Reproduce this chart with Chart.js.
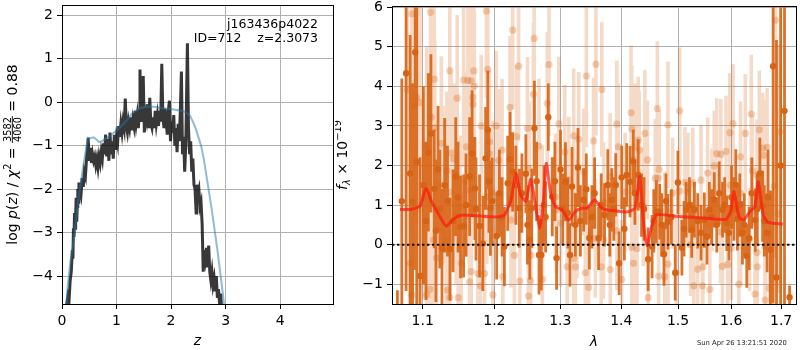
<!DOCTYPE html>
<html>
<head>
<meta charset="utf-8">
<title>p(z) and spectrum</title>
<script src="https://cdn.jsdelivr.net/npm/chart.js@4/dist/chart.umd.min.js"></script>
<style>
  body { margin: 0; background: #fff; width: 800px; height: 350px; overflow: hidden; position: relative; }
  #pz { position: absolute; left: 0; top: 0; }
  #sp { position: absolute; left: 335px; top: 0; }
</style>
</head>
<body>
<canvas id="pz" width="335" height="350"></canvas>
<canvas id="sp" width="465" height="350"></canvas>
<script>
// ---- left panel: log p(z) ----
var zRange = [0, 4.97];
var lpRange = [-4.64, 2.23];
var xTicksPz = [0, 1, 2, 3, 4];
var yTicksPz = [-4, -3, -2, -1, 0, 1, 2];

// noisy p(z) curve (dark)
var zPz = [
  0.08, 0.11, 0.13, 0.15, 0.17, 0.19, 0.20, 0.21, 0.22, 0.23,
  0.24, 0.25, 0.26, 0.27, 0.28, 0.29, 0.30, 0.31, 0.32, 0.33,
  0.35, 0.37, 0.39, 0.41, 0.43, 0.45, 0.47, 0.48, 0.50, 0.52,
  0.54, 0.56, 0.58, 0.60, 0.62, 0.64, 0.66, 0.68, 0.70, 0.72,
  0.74, 0.76, 0.78, 0.80, 0.82, 0.84, 0.86, 0.88, 0.90, 0.92,
  0.94, 0.96, 0.98, 1.00, 1.02, 1.04, 1.06, 1.08, 1.10, 1.12,
  1.14, 1.16, 1.18, 1.20, 1.22, 1.24, 1.26, 1.28, 1.30, 1.32,
  1.34, 1.36, 1.38, 1.40, 1.42, 1.43, 1.45, 1.47, 1.49, 1.51,
  1.53, 1.55, 1.57, 1.59, 1.61, 1.63, 1.65, 1.67, 1.69, 1.71,
  1.73, 1.75, 1.77, 1.79, 1.81, 1.83, 1.85, 1.87, 1.89, 1.91,
  1.93, 1.95, 1.97, 1.99, 2.01, 2.03, 2.05, 2.07, 2.09, 2.11,
  2.13, 2.15, 2.17, 2.19, 2.21, 2.23, 2.25, 2.27, 2.30, 2.32,
  2.34, 2.36, 2.38, 2.40, 2.42, 2.44, 2.46, 2.47, 2.49, 2.51,
  2.53, 2.55, 2.57, 2.59, 2.61, 2.63, 2.65, 2.67, 2.69, 2.71,
  2.73, 2.75, 2.77, 2.79, 2.81, 2.83, 2.85, 2.87, 2.89, 2.91, 2.93
];
var lpPz = [
  -4.70, -4.45, -4.55, -4.10, -3.90, -3.40, -3.60, -2.90, -3.10, -2.55,
  -2.90, -2.60, -2.20, -2.75, -2.40, -2.00, -2.30, -1.85, -2.20, -1.95,
  -2.10, -1.75, -1.95, -1.60, -1.70, -1.30, -1.05, -0.82, -1.35, -1.05,
  -1.40, -1.20, -1.35, -1.25, -1.45, -1.30, -1.50, -1.25, -1.40, -1.15,
  -1.30, -0.95, -1.20, -0.75, -1.25, -0.85, -1.35, -0.70, -1.20, -0.90,
  -1.30, -0.75, -1.10, -0.80, -0.95, -0.55, -0.80, -0.50, -0.70, -0.45,
  -0.60, 0.08, -0.55, -0.70, -0.45, -0.60, -0.35, -0.65, -0.40, -0.55,
  -0.20, -0.50, -0.30, -0.60, -0.20, 0.75, -0.45, -0.30, 0.60, -0.70,
  -0.25, -0.40, -0.05, -0.60, 0.10, -0.50, -0.60, -0.35, -0.60, -0.20,
  -0.50, -0.30, -0.55, -0.20, -0.45, 0.88, -0.30, -0.60, -0.15, -0.45,
  -0.75, -0.20, 0.03, -0.90, -0.45, -0.70, -0.30, -1.00, -0.60, -1.15,
  -0.50, -0.90, -0.20, 0.70, -1.20, -0.80, -1.60, -1.00, 1.35, -0.60,
  -1.20, -0.90, -1.60, -1.30, -1.90, -2.00, -2.55, -1.90, -2.10, -2.00,
  -2.40, -2.30, -2.80, -3.90, -3.40, -3.60, -3.35, -3.80, -3.30, -3.90,
  -4.10, -3.90, -4.20, -4.05, -4.35, -4.00, -4.50, -4.30, -4.64, -4.40, -4.80
];

// smooth chi2 curve (blue)
var zBlue = [0.07, 0.10, 0.15, 0.20, 0.25, 0.30, 0.35, 0.40, 0.45, 0.48, 0.52, 0.58, 0.63, 0.68, 0.73, 0.80,
  0.88, 0.97, 1.05, 1.13, 1.20, 1.28, 1.35, 1.42, 1.50, 1.60, 1.70, 1.80, 1.90, 2.00, 2.10, 2.20,
  2.28, 2.35, 2.40, 2.45, 2.50, 2.55, 2.60, 2.65, 2.70, 2.75, 2.80, 2.85, 2.90, 2.95, 2.98];
var lpBlue = [-4.90, -4.30, -3.70, -3.30, -2.80, -2.25, -1.80, -1.40, -1.00, -0.82, -0.83, -0.81, -0.86, -0.92, -0.90, -0.84,
  -0.78, -0.68, -0.60, -0.50, -0.40, -0.27, -0.20, -0.15, -0.12, -0.10, -0.11, -0.13, -0.15, -0.16, -0.18, -0.20,
  -0.24, -0.32, -0.45, -0.60, -0.80, -1.00, -1.30, -1.70, -2.10, -2.50, -2.95, -3.40, -3.90, -4.40, -4.75];

var objName = 'j163436p4022';
var idLine = 'ID=712    z=2.3073';

// ---- right panel: spectrum ----
var lamRange = [1.0597, 1.731];
var fRange = [-1.5, 6.03];
var xTicksSp = [1.1, 1.2, 1.3, 1.4, 1.5, 1.6, 1.7];
var yTicksSp = [-1, 0, 1, 2, 3, 4, 5, 6];

// binned points (dark orange)
var lamDark = [
  1.0667, 1.0724, 1.078, 1.0865, 1.090, 1.092, 1.0964, 1.1075, 1.111, 1.1155,
  1.1178, 1.126, 1.1297, 1.137, 1.145, 1.1517, 1.156, 1.1645, 1.168, 1.172,
  1.1786, 1.1833, 1.1873, 1.1905, 1.1943, 1.2034, 1.2147, 1.2196, 1.2231, 1.227,
  1.2368, 1.2408, 1.2468, 1.2528, 1.2558, 1.2598, 1.2669, 1.2704, 1.2746, 1.2812,
  1.2874, 1.2942, 1.3004, 1.3082, 1.3155, 1.3187, 1.3241, 1.3283, 1.3375, 1.3467,
  1.3554, 1.3619, 1.3718, 1.3773, 1.3839, 1.3906, 1.3963, 1.4007, 1.4092, 1.415,
  1.4206, 1.4291, 1.4349, 1.4464, 1.4534, 1.4609, 1.4669, 1.4745, 1.4817, 1.4948,
  1.4997, 1.507, 1.5148, 1.5251, 1.5301, 1.5424, 1.5486, 1.558, 1.5674, 1.5769,
  1.5832, 1.5915, 1.6006, 1.609, 1.612, 1.622, 1.6305, 1.6353, 1.6405, 1.6474,
  1.6567, 1.6622, 1.6713, 1.678, 1.6836, 1.6905, 1.699, 1.707, 1.7175,
  1.0833, 1.1008, 1.1044, 1.1207, 1.1231, 1.1336, 1.1413, 1.1482, 1.1594, 1.1735, 1.1921,
  1.1969, 1.2073, 1.2113, 1.2317, 1.2492, 1.2632, 1.2771, 1.2916, 1.304, 1.312, 1.3322, 1.3418,
  1.3509, 1.3663, 1.3806, 1.3873, 1.4052, 1.4234, 1.4392, 1.4564, 1.4704, 1.4781, 1.4878, 1.5109, 1.5209,
  1.5362, 1.5535, 1.5623, 1.5722, 1.5873, 1.5956, 1.6052, 1.6167, 1.6257, 1.6513, 1.6655, 1.6733
];
var fluxDark = [
  -1.6, 1.1, 4.33, 1.08, 4.86, 2.09, -0.79, 2.33, 2.81, 1.41,
  0.35, -0.09, 1.5, -0.11, 1.72, 0.45, 0.47, 1.72, 2.3, 1.42,
  0.47, 0.03, 2.18, 2.9, 0.92, 0.22, -0.05, 1.55, 2.16, 1.84,
  0.92, 1.3, 1.79, 0.12, 0.92, 2.94, -0.26, -0.26, 1.0, 3.22,
  1.21, -0.34, 1.9, 1.59, -0.26, 1.47, 0.5, 1.95, 1.13, 0.17,
  1.3, 0.16, 0.75, 1.51, 1.13, 1.51, -0.47, 1.7, 1.76, 1.59,
  2.1, 1.76, 1.0, -0.37, -0.05, 0.83, 0.83, -0.24, 0.58, -0.71,
  1.57, -0.08, 0.88, 0.37, 0.88, 0.3, 0.62, 0.88, 1.13, 1.3,
  0.88, 0.54, 1.2, 1.51, 0.65, 0.3, -0.29, 0.16, 1.3, 0.62,
  1.8, 0.97, 0.3, -0.13, 4.51, -0.83, 2.0, 3.38, -1.33,
  1.8, 1.5, 0.6, 1.9, 0.9, 1.1, 0.6, 1.2, 1.0, 0.9, 1.6,
  1.1, 1.3, 0.7, 1.5, 0.5, 1.6, 0.7, 1.6, 0.9, 0.8, 0.6, 1.4,
  0.7, 1.0, 0.5, 0.9, 0.4, 1.3, 0.9, 0.6, 0.5, 1.1, 0.7, 0.4, 1.0,
  0.6, 0.2, 0.7, 0.5, 1.0, 0.3, 0.9, 1.0, 0.5, 0.9, 0.6, 1.2
];
var errDark = [
  0.45, 3.1, 5.5, 3.0, 5.5, 4.0, 3.0, 2.0, 2.0, 1.5,
  1.8, 1.5, 1.7, 1.3, 1.5, 1.3, 1.3, 1.5, 1.6, 1.3,
  1.3, 1.2, 1.3, 1.5, 1.2, 1.1, 1.0, 1.2, 1.2, 1.0,
  1.0, 1.0, 1.0, 1.0, 1.0, 1.2, 1.0, 0.9, 1.0, 0.85,
  1.0, 0.8, 1.0, 1.0, 0.8, 1.0, 0.8, 1.0, 0.8, 0.8,
  0.9, 0.8, 0.8, 0.9, 0.8, 0.8, 0.8, 0.8, 0.8, 0.9,
  0.8, 0.9, 0.8, 0.8, 0.8, 0.8, 0.7, 0.8, 0.7, 0.7,
  0.8, 0.7, 0.7, 0.7, 0.7, 0.7, 0.7, 0.7, 0.7, 0.8,
  0.7, 0.7, 0.8, 0.9, 0.8, 0.8, 0.8, 0.8, 0.9, 0.8,
  0.9, 0.9, 1.0, 1.5, 6.0, 6.0, 6.0, 6.0, 0.3,
  3.5, 2.5, 2.0, 1.6, 1.5, 1.4, 1.3, 1.4, 1.3, 1.3, 1.3,
  1.1, 1.1, 1.0, 1.0, 1.0, 1.0, 0.9, 1.0, 0.9, 0.9, 0.9, 0.9,
  0.8, 0.8, 0.8, 0.8, 0.8, 0.8, 0.8, 0.8, 0.8, 0.7, 0.7, 0.7, 0.7,
  0.7, 0.7, 0.7, 0.7, 0.7, 0.7, 0.8, 0.8, 0.8, 0.9, 0.9, 1.2
];

// unbinned points (light orange)
var lamLight = [
  1.0797, 1.0833, 1.0856, 1.0856, 1.0886, 1.092, 1.0964, 1.1008, 1.1053, 1.1053,
  1.1075, 1.1097, 1.1105, 1.1114, 1.1143, 1.1155, 1.1163, 1.1187, 1.1252, 1.1274,
  1.1318, 1.1327, 1.1336, 1.1368, 1.1368, 1.138, 1.1387, 1.142, 1.1456, 1.147,
  1.1484, 1.151, 1.1527, 1.156, 1.159, 1.16, 1.162, 1.164, 1.1645, 1.1667,
  1.1667, 1.1688, 1.169, 1.1703, 1.1711, 1.1762, 1.1797, 1.181, 1.1858, 1.1884,
  1.189, 1.1905, 1.1929, 1.193, 1.1969, 1.1979, 1.2025, 1.2063, 1.2113, 1.2123,
  1.2231, 1.2245, 1.227, 1.2295, 1.2328, 1.2358, 1.2378, 1.2492, 1.2507, 1.2518,
  1.254, 1.2543, 1.2584, 1.2594, 1.2669, 1.2719, 1.2721, 1.2797, 1.2823, 1.2926,
  1.294, 1.2978, 1.3004, 1.3071, 1.3109, 1.3136, 1.3214, 1.3216, 1.324, 1.3267,
  1.3295, 1.3375, 1.3402, 1.3418, 1.3456, 1.3538, 1.3566, 1.3575, 1.3663, 1.3673,
  1.37, 1.3702, 1.3812, 1.3814, 1.3923, 1.3925, 1.395, 1.4007, 1.4064, 1.4167,
  1.4178, 1.418, 1.42, 1.421, 1.4234, 1.427, 1.4291, 1.431, 1.438, 1.4407,
  1.4452, 1.4464, 1.459, 1.4627, 1.464, 1.465, 1.466, 1.4759, 1.476, 1.4817,
  1.4819, 1.49, 1.497, 1.5028, 1.503, 1.5126, 1.5178, 1.518, 1.523, 1.527,
  1.529, 1.5362, 1.5424, 1.545, 1.546, 1.5548, 1.559, 1.563, 1.5674, 1.5722,
  1.5795, 1.58, 1.583, 1.59, 1.593, 1.5973, 1.598, 1.6, 1.6036, 1.615,
  1.618, 1.6185, 1.6183, 1.6276, 1.636, 1.6395, 1.6418, 1.647, 1.651, 1.6512,
  1.6515, 1.6555, 1.6622, 1.664, 1.667, 1.6672, 1.6713, 1.676, 1.686, 1.6884,
  1.694, 1.6972
];
var fluxLight = [
  3.91, -0.47, 5.83, -1.27, 3.5, 3.72, 3.59, 1.21, 2.49, -1.27,
  1.13, -1.13, 5.87, 3.22, 0.12, 4.18, 2.95, -0.34, 2.56, 1.5,
  0.08, 1.87, -1.15, 4.39, -1.34, 1.33, 2.32, 2.17, 0.8, 3.7,
  -1.34, 0.96, -0.47, 4.16, 1.59, 2.47, 4.15, 1.38, -0.94, 4.14,
  -0.68, 3.72, 3.55, 4.39, 4.0, -0.73, -1.04, 3.0, -0.73, 5.9,
  1.21, 4.43, 2.6, 2.3, 1.33, -1.27, 3.0, 2.13, 2.39, -0.81,
  3.47, 0.62, 5.42, -0.27, 2.73, 4.51, -0.92, 2.94, -1.3, 1.92,
  -0.91, -0.27, 3.8, 5.21, 2.49, 0.9, -0.88, 3.57, 4.55, 1.21,
  0.88, 3.05, 0.54, 2.34, -0.56, 1.63, 2.75, -0.35, -0.56, 0.65,
  2.66, 1.84, -0.71, 4.26, -1.08, 2.62, 0.16, 4.56, -0.56, 3.92,
  0.13, 1.08, 1.72, -0.63, 3.05, 0.35, 2.47, -0.88, 1.33, 3.33,
  -0.07, 2.92, 2.16, -0.47, 2.47, -0.1, 2.64, 2.39, 0.96, 2.81,
  2.14, -1.34, 1.68, 3.44, 1.68, -0.8, 1.9, 0.45, -0.81, 3.03,
  -0.49, 1.3, -0.71, 3.38, 1.35, 1.57, 1.33, 1.43, 0.0, 1.56,
  -1.04, -0.62, 1.63, -1.04, -0.56, 1.81, -1.13, 1.13, 1.99, 2.3,
  0.32, 2.28, -0.55, 2.36, -0.5, 2.83, 1.5, -0.1, 3.06, -1.0,
  1.3, 0.3, 2.22, 2.81, 0.13, 3.3, 1.87, -1.25, 1.76, -0.2,
  -0.56, 2.9, 2.44, 2.26, -0.04, -1.4, 2.46, -1.1, 1.47, 5.67,
  0.78, 2.85
];
var errLight = [
  3.0, 3.0, 3.5, 2.8, 3.0, 3.2, 2.8, 2.6, 2.5, 2.4,
  2.5, 2.3, 2.6, 2.4, 2.2, 2.5, 2.2, 2.0, 2.2, 2.0,
  2.1, 2.0, 1.9, 2.3, 2.0, 1.9, 2.0, 1.9, 1.8, 2.1,
  1.9, 1.8, 1.8, 2.2, 1.9, 1.9, 2.0, 1.8, 1.8, 2.1,
  1.7, 1.9, 2.0, 2.0, 1.9, 1.7, 1.7, 1.8, 1.8, 2.2,
  1.7, 2.0, 1.8, 1.8, 1.8, 1.7, 1.9, 1.8, 1.8, 1.7,
  1.8, 1.7, 2.0, 1.7, 1.8, 1.9, 1.7, 1.8, 1.6, 1.7,
  1.6, 1.7, 1.8, 1.9, 1.7, 1.6, 1.6, 1.8, 1.8, 1.6,
  1.6, 1.7, 1.6, 1.7, 1.6, 1.6, 1.7, 1.6, 1.6, 1.5,
  1.7, 1.6, 1.5, 1.8, 1.5, 1.6, 1.5, 1.8, 1.5, 1.7,
  1.5, 1.5, 1.6, 1.5, 1.6, 1.5, 1.6, 1.5, 1.5, 1.7,
  1.5, 1.6, 1.5, 1.5, 1.6, 1.5, 1.6, 1.5, 1.5, 1.6,
  1.5, 1.4, 1.5, 1.7, 1.5, 1.4, 1.5, 1.4, 1.4, 1.6,
  1.4, 1.4, 1.4, 1.6, 1.4, 1.4, 1.4, 1.4, 1.3, 1.4,
  1.3, 1.3, 1.4, 1.3, 1.3, 1.4, 1.3, 1.3, 1.4, 1.4,
  1.3, 1.4, 1.3, 1.4, 1.3, 1.5, 1.3, 1.3, 1.5, 1.3,
  1.3, 1.3, 1.4, 1.5, 1.3, 1.5, 1.4, 1.3, 1.4, 1.3,
  1.3, 1.5, 1.4, 1.4, 1.4, 1.4, 1.5, 1.5, 1.8, 2.5,
  2.0, 2.2
];

// best-fit model (red)
var lamModel = [1.070, 1.0833, 1.0964, 1.1044, 1.1119, 1.1231, 1.132, 1.1433, 1.1545, 1.1725,
  1.2025, 1.2147, 1.2245, 1.2317, 1.2391, 1.2468, 1.2543, 1.2618, 1.2679, 1.273,
  1.2781, 1.2849, 1.2926, 1.3029, 1.3136, 1.3241, 1.3347, 1.3429, 1.3554, 1.3673,
  1.3839, 1.412, 1.4234, 1.4291, 1.432, 1.439, 1.4447, 1.4519, 1.4609, 1.4997,
  1.5486, 1.5897, 1.5991, 1.6054, 1.6149, 1.6243, 1.6372, 1.6468, 1.6535, 1.6633,
  1.6733, 1.7036];
var fluxModel = [0.89, 0.89, 0.98, 1.42, 1.09, 0.71, 0.47, 0.67, 0.75, 0.73,
  0.70, 0.75, 1.13, 1.8, 1.25, 1.1, 1.65, 0.96, 0.41, 0.96,
  2.05, 1.3, 0.96, 0.88, 0.62, 0.84, 0.92, 0.92, 1.13, 0.92,
  0.86, 0.83, 0.92, 1.46, 1.72, 0.45, -0.03, 0.41, 0.75, 0.71,
  0.67, 0.64, 0.84, 1.34, 0.71, 0.62, 0.84, 0.96, 1.59, 0.75,
  0.56, 0.52];

var stamp = 'Sun Apr 26 13:21:51 2020';

var ORANGE = '215,100,20';
var FONT = '"DejaVu Sans"';

function pairs(xs, ys) {
  var out = [];
  for (var i = 0; i < xs.length; i++) out.push({ x: xs[i], y: ys[i] });
  return out;
}

// vertical error bars as one broken line: low, high, gap
function errorSegments(xs, ys, es) {
  var out = [];
  for (var i = 0; i < xs.length; i++) {
    out.push({ x: xs[i], y: ys[i] - es[i] });
    out.push({ x: xs[i], y: ys[i] + es[i] });
    out.push({ x: xs[i], y: null });
  }
  return out;
}

function mplNum(v) {
  return v < 0 ? '\u2212' + Math.abs(v) : String(v);
}

function axis(kind, range, ticks, size, fmt) {
  return {
    type: kind,
    min: range[0],
    max: range[1],
    grid: { color: '#b0b0b0', lineWidth: 1, tickColor: '#000', tickLength: 5, tickWidth: 1 },
    border: { display: false },
    ticks: { color: '#000', font: { family: 'DejaVu Sans', size: 14 }, padding: 4, autoSkip: false, maxRotation: 0, callback: fmt },
    afterBuildTicks: function (s) {
      s.ticks = ticks.map(function (v) { return { value: v }; });
    },
    afterFit: function (s) {
      if (s.isHorizontal()) s.height = size; else s.width = size;
      s.paddingTop = 0; s.paddingBottom = 0; s.paddingLeft = 0; s.paddingRight = 0;
    }
  };
}

// text made of runs (italic, sub/superscripts, a stacked fraction)
function drawRuns(ctx, runs, x, y, vertical) {
  ctx.save();
  ctx.translate(x, y);
  if (vertical) ctx.rotate(-Math.PI / 2);
  ctx.fillStyle = '#000';
  ctx.textBaseline = 'alphabetic';
  ctx.textAlign = 'left';
  var total = 0;
  runs.forEach(function (r) {
    ctx.font = r.font;
    if (r.frac) r.w = Math.max(ctx.measureText(r.frac[0]).width, ctx.measureText(r.frac[1]).width) + 2;
    else r.w = ctx.measureText(r.text).width;
    total += r.w;
  });
  var cx = -total / 2;
  runs.forEach(function (r) {
    ctx.font = r.font;
    if (r.frac) {
      var bar = -4.2;
      ctx.textAlign = 'center';
      ctx.fillText(r.frac[0], cx + r.w / 2, bar - 1.6);
      ctx.fillText(r.frac[1], cx + r.w / 2, bar + 8.6);
      ctx.fillRect(cx, bar - 0.45, r.w, 0.9);
      ctx.textAlign = 'left';
    } else {
      ctx.fillText(r.text, cx, r.dy || 0);
    }
    cx += r.w;
  });
  ctx.restore();
}

function drawFrame(ctx, a) {
  ctx.save();
  ctx.strokeStyle = '#000';
  ctx.lineWidth = 1;
  ctx.strokeRect(Math.round(a.left) + 0.5, Math.round(a.top) + 0.5, Math.round(a.right - a.left), Math.round(a.bottom - a.top));
  ctx.restore();
}

var N = '14px ' + FONT, I = 'italic 14px ' + FONT, S = '9.8px ' + FONT, SI = 'italic 9.8px ' + FONT;

var pzText = {
  id: 'pzText',
  afterDraw: function (chart) {
    var ctx = chart.ctx, a = chart.chartArea;
    drawFrame(ctx, a);
    ctx.save();
    ctx.fillStyle = '#000';
    ctx.font = '12.5px ' + FONT;
    ctx.textAlign = 'right';
    ctx.textBaseline = 'alphabetic';
    ctx.fillText(objName, 318, 27.5);
    ctx.fillText(idLine, 318, 41.5);
    ctx.font = I;
    ctx.textAlign = 'center';
    ctx.fillText('z', (a.left + a.right) / 2, 345);
    ctx.restore();
    drawRuns(ctx, [
      { text: 'log ', font: N }, { text: 'p', font: I }, { text: '(', font: N }, { text: 'z', font: I }, { text: ')', font: N },
      { text: ' / ', font: N }, { text: '\u03c7', font: I }, { text: '2', font: S, dy: -5.5 },
      { text: ' = ', font: N }, { frac: ['3582', '4060'], font: S }, { text: ' = 0.88', font: N }
    ], 16.5, (a.top + a.bottom) / 2, true);
  }
};

var spText = {
  id: 'spText',
  afterDraw: function (chart) {
    var ctx = chart.ctx, a = chart.chartArea;
    drawFrame(ctx, a);
    ctx.save();
    ctx.fillStyle = '#000';
    ctx.font = I;
    ctx.textAlign = 'center';
    ctx.fillText('\u03bb', (a.left + a.right) / 2, 346);
    ctx.font = '6.8px ' + FONT;
    ctx.fillStyle = '#222';
    ctx.textAlign = 'left';
    ctx.fillText(stamp, 362, 344.5);
    ctx.restore();
    drawRuns(ctx, [
      { text: 'f', font: I }, { text: '\u03bb', font: SI, dy: 3 }, { text: ' \u00d7 ', font: N },
      { text: '10', font: N }, { text: '\u221219', font: S, dy: -6 }
    ], 12, (a.top + a.bottom) / 2, true);
  }
};

new Chart(document.getElementById('pz'), {
  type: 'line',
  data: {
    datasets: [
      { data: pairs(zBlue, lpBlue), borderColor: 'rgba(31,119,180,0.5)', borderWidth: 2, pointRadius: 0, order: 0, clip: 0 },
      { data: pairs(zPz, lpPz), borderColor: 'rgba(0,0,0,0.78)', borderWidth: 3, pointRadius: 0, order: 1, clip: 0 }
    ]
  },
  options: {
    responsive: false,
    devicePixelRatio: 1,
    animation: false,
    events: [],
    layout: { padding: { left: 0, right: 2, top: 5, bottom: 0 } },
    plugins: { legend: { display: false }, tooltip: { enabled: false } },
    scales: {
      x: axis('linear', zRange, xTicksPz, 46, mplNum),
      y: axis('linear', lpRange, yTicksPz, 62, mplNum)
    }
  },
  plugins: [pzText]
});

new Chart(document.getElementById('sp'), {
  type: 'line',
  data: {
    datasets: [
      { data: pairs(lamModel, fluxModel), borderColor: 'rgba(255,25,15,0.72)', borderWidth: 3, pointRadius: 0, tension: 0.2, order: 0, clip: 0 },
      { data: pairs(lamRange, [0, 0]), borderColor: '#111', borderWidth: 2, borderDash: [2.4, 2.6], pointRadius: 0, order: 1, clip: 0 },
      { data: pairs(lamDark, fluxDark), showLine: false, pointRadius: 3.2, pointBorderWidth: 0, pointBackgroundColor: 'rgb(' + ORANGE + ')', order: 2, clip: 0 },
      { data: errorSegments(lamDark, fluxDark, errDark), borderColor: 'rgba(' + ORANGE + ',0.9)', borderWidth: 2.8, borderCapStyle: 'butt', pointRadius: 0, spanGaps: false, order: 3, clip: 0 },
      { data: pairs(lamLight, fluxLight), showLine: false, pointRadius: 3.6, pointBorderWidth: 0, pointBackgroundColor: 'rgba(' + ORANGE + ',0.3)', order: 4, clip: 0 },
      { data: errorSegments(lamLight, fluxLight, errLight), borderColor: 'rgba(' + ORANGE + ',0.24)', borderWidth: 3.6, borderCapStyle: 'butt', pointRadius: 0, spanGaps: false, order: 5, clip: 0 }
    ]
  },
  options: {
    responsive: false,
    devicePixelRatio: 1,
    animation: false,
    events: [],
    layout: { padding: { left: 0, right: 1, top: 6, bottom: 0 } },
    plugins: { legend: { display: false }, tooltip: { enabled: false } },
    scales: {
      x: axis('logarithmic', lamRange, xTicksSp, 46, function (v) { return Number(v).toFixed(1); }),
      y: axis('linear', fRange, yTicksSp, 57, mplNum)
    }
  },
  plugins: [spText]
});
</script>
</body>
</html>
